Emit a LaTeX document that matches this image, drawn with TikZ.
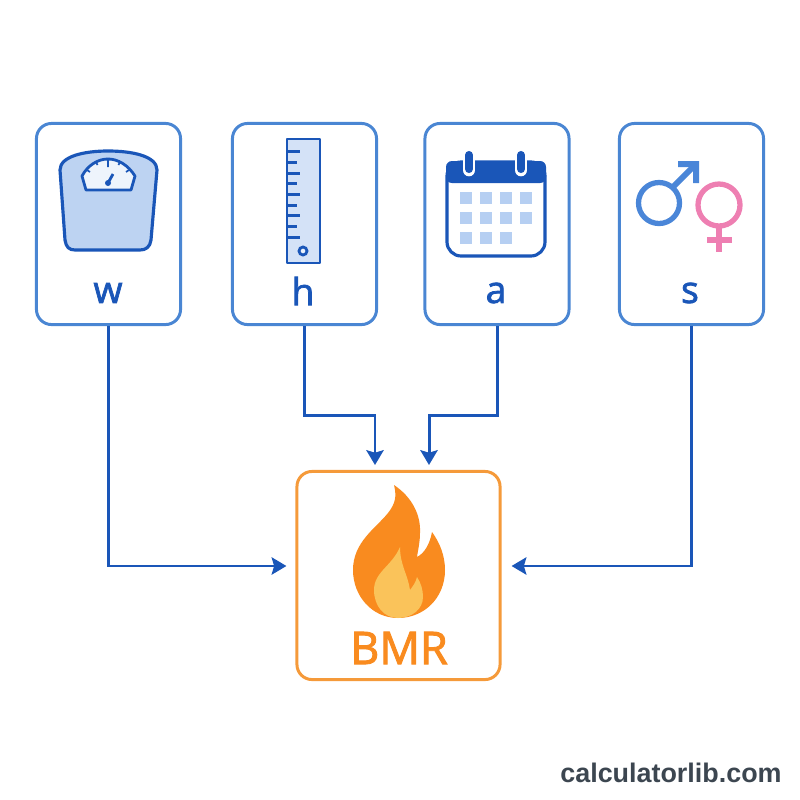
\documentclass[tikz,border=0pt]{standalone}
\usepackage{fontspec}
\usetikzlibrary{arrows.meta}
\setmainfont{Open Sans}
\newfontfamily\markfont{Liberation Sans}
\newfontfamily\labelfont{Open Sans}[FakeBold=2]
\definecolor{boxblue}{HTML}{4A86D3}
\definecolor{darkblue}{HTML}{1A56B8}
\definecolor{paleblue}{HTML}{BDD3F2}
\definecolor{cellblue}{HTML}{B6CFF2}
\definecolor{maleblue}{HTML}{4A86D8}
\definecolor{femalepink}{HTML}{EE7FB2}
\definecolor{boxorange}{HTML}{F59A3A}
\definecolor{fireorange}{HTML}{F98B1F}
\definecolor{fireyellow}{HTML}{FAC35A}
\definecolor{markgray}{HTML}{3C4650}
\tikzset{
  inputbox/.style={draw=boxblue,line width=0.85pt,rounded corners=4.3pt,inner sep=0pt,
    minimum width=1.44cm,minimum height=2.01cm},
  outputbox/.style={draw=boxorange,line width=0.85pt,rounded corners=4.3pt,inner sep=0pt,
    minimum width=2.03cm,minimum height=2.08cm},
  letter/.style={text=darkblue,font=\labelfont\fontsize{10.6}{12}\selectfont,inner sep=0pt},
  link/.style={draw=darkblue,line width=0.85pt,-{Stealth[length=4.2pt,width=4.9pt,inset=0.7pt]}},
  icon/.style={draw=darkblue,line width=0.9pt,line join=round},
  tick/.style={darkblue,line width=0.8pt}
}
\begin{document}
\begin{tikzpicture}[x=0.01cm,y=-0.01cm]
\useasboundingbox (0,0) rectangle (800,800);

\node[inputbox] (wbox) at (108.5,224) {};
\node[inputbox] (hbox) at (304.5,224) {};
\node[inputbox] (abox) at (497,224) {};
\node[inputbox] (sbox) at (691.5,224) {};
\node[outputbox] (bmrbox) at (398.5,575.5) {};

\node[letter] (wlabel) at (108,293) {w};
\node[letter] (hlabel) at (303,291) {h};
\node[letter] (alabel) at (496,293) {a};
\node[letter] (slabel) at (690,293) {s};
\node[text=fireorange,font=\labelfont\fontsize{12.8}{14}\selectfont,inner sep=0pt] (bmrlabel) at (399,648) {BMR};
\node[text=markgray,font=\markfont\fontsize{7.65}{9}\selectfont\bfseries,inner sep=0pt] (mark) at (671,773) {calculatorlib.com};

% connectors
\coordinate (hin) at (375,465);
\coordinate (ain) at (429,465);
\draw[link] (wbox.south) |- ([xshift=-0.09cm,yshift=0.095cm]bmrbox.west);
\draw[link] (sbox.south) |- ([xshift=0.10cm,yshift=0.095cm]bmrbox.east);
\draw[link] (hbox.south) --++(0,89) -| (hin);
\draw[link] (abox.south) --++(0,89) -| (ain);

% scale
\draw[icon,fill=paleblue] (60,170) .. controls (60,156) and (85,151) .. (108,151)
 .. controls (132,151) and (157,156) .. (157,170) -- (151,240)
 .. controls (150,247) and (146,250) .. (140,250) -- (75,250)
 .. controls (69,250) and (66,247) .. (65,240) -- cycle;
\draw[icon,fill=white!75!paleblue,line width=0.8pt] (86,190) -- (131,190) -- (135,176)
 .. controls (128,165) and (118,159) .. (108,159) .. controls (98,159) and (88,165) .. (82,176) -- cycle;
\draw[tick,line width=0.5pt] (108,160)--++(0,7) (96,162)--++(1.5,3) (120,162)--++(-1.5,3)
 (87,170)--++(3,2) (129,170)--++(-3,2);
\draw[tick] (108,183)--++(5,-9);
\fill[darkblue] (108,183) circle (3);

% ruler
\draw[icon,line width=0.75pt,fill=paleblue!65!white] (287,139) rectangle (320,263);
\foreach \k in {0,...,8}{
  \pgfmathtruncatemacro{\odd}{mod(\k,2)}
  \ifnum\odd=0 \def\len{13}\else\def\len{10}\fi
  \draw[tick] (287,151.7+10.7*\k)--++(\len,0);
}
\draw[tick,fill=white!70!paleblue] (303,251) circle (4);

% calendar
\draw[icon,fill=white,rounded corners=4pt] (447,162) rectangle (545,256);
\fill[darkblue,rounded corners=1.7pt] (446,183) -- (446,161) -- (546,161) -- (546,183) -- cycle;
\foreach \cx in {469,521}{
  \draw[white,line width=3.6pt,line cap=round] (\cx,155) -- (\cx,170);
  \draw[darkblue,line width=2.3pt,line cap=round] (\cx,155) -- (\cx,169);
}
\foreach \col/\row in {0/0,1/0,2/0,3/0,0/1,1/1,2/1,3/1,0/2,1/2,2/2}{
  \fill[cellblue] (460+20*\col,192+20*\row) rectangle ++(12,12);
}

% gender signs
\draw[maleblue,line width=1.5pt] (659,203) circle (20.5);
\draw[maleblue,line width=1.7pt] (673,187) -- (693,167);
\fill[maleblue] (678,161) -- (699,161) -- (699,183) -- (693,183) -- (693,167) -- (678,167) -- cycle;
\draw[femalepink,line width=1.5pt] (719,205) circle (21);
\draw[femalepink,line width=1.5pt] (719,226) -- (719,252) (707,240) -- (732,240);

% flame
\fill[fireorange] (394,485) .. controls (412,497) and (421,515) .. (420,533)
 .. controls (420,542) and (418,550) .. (417,557) .. controls (425,553) and (430,543) .. (432,532)
 .. controls (440,543) and (445,556) .. (445,570) .. controls (445,598) and (424,618) .. (398,618)
 .. controls (372,618) and (353,596) .. (353,570) .. controls (353,542) and (376,528) .. (388,513)
 .. controls (395,504) and (397,497) .. (394,485) -- cycle;
\fill[fireyellow] (400,547) .. controls (400,565) and (408,575) .. (410,590)
 .. controls (413,586) and (416,582) .. (417,577) .. controls (421,583) and (423,590) .. (423,597)
 .. controls (423,609) and (412,618) .. (398,618) .. controls (384,618) and (374,606) .. (374,590)
 .. controls (374,572) and (392,566) .. (400,547) -- cycle;
\end{tikzpicture}
\end{document}
